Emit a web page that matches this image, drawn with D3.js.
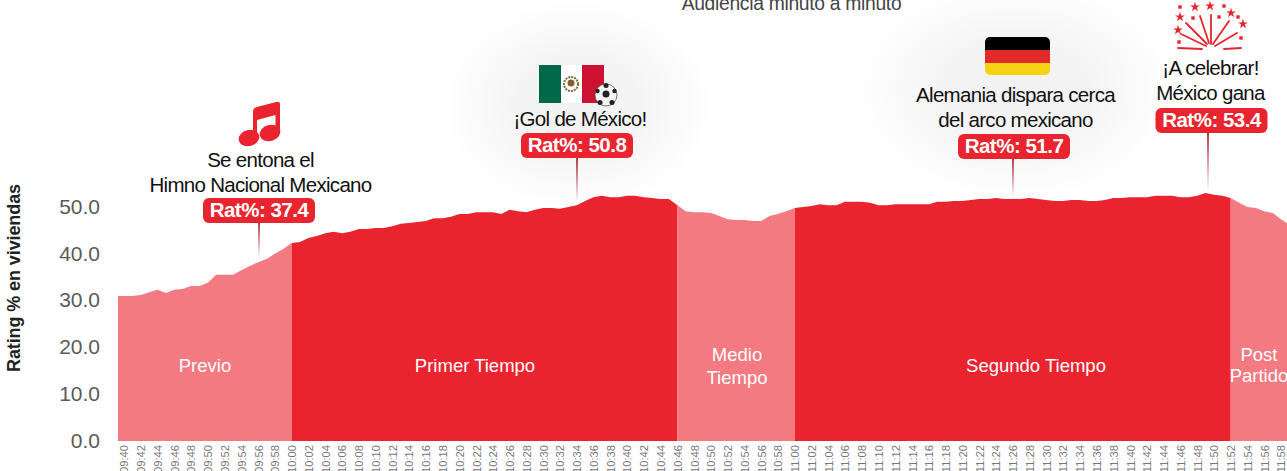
<!DOCTYPE html>
<meta charset="utf-8">
<script src="https://d3js.org/d3.v7.min.js"></script>
<style>
  html, body { margin: 0; padding: 0; background: #fff; overflow: hidden; }
  svg { display: block; font-family: "Liberation Sans", Arial, sans-serif; }
</style>
<div id="my_dataviz"></div>
<script>

// rating per minute, first value is 09:39
var firstMinute = 579;
var rating = [
  31.0, 31.0, 31.0, 31.2, 31.8, 32.3, 31.6, 32.3, 32.5, 33.1, 33.1, 33.8, 35.5, 35.5, 35.5, 36.5, 37.4, 38.2, 38.9, 40.0, 41.0,
  42.3, 42.5, 43.4, 43.8, 44.4, 44.7, 44.4, 44.7, 45.3, 45.3, 45.5, 45.5, 45.9, 46.4, 46.6, 46.8, 47.0, 47.6, 47.6, 47.9,
  48.5, 48.5, 48.9, 48.9, 48.9, 48.5, 49.4, 49.1, 48.9, 49.4, 49.8, 49.8, 49.6, 50.0, 50.4, 51.3, 52.1, 52.4, 52.1, 52.1,
  52.4, 52.4, 52.1, 51.9, 51.7, 51.7, 50.4, 49.1, 48.9, 48.9, 48.7, 48.1, 47.4, 47.2, 47.2, 47.0, 47.0, 48.1, 48.5, 49.1,
  49.8, 50.0, 50.2, 50.6, 50.4, 50.4, 51.1, 51.1, 51.1, 50.9, 50.4, 50.4, 50.6, 50.6, 50.6, 50.6, 50.6, 51.1, 51.1, 51.3,
  51.3, 51.5, 51.7, 51.7, 51.9, 51.7, 51.7, 51.7, 51.9, 51.7, 51.5, 51.3, 51.3, 51.5, 51.5, 51.3, 51.3, 51.5, 51.9, 51.9,
  52.1, 52.1, 52.1, 52.4, 52.4, 52.4, 52.1, 52.1, 52.4, 53.0, 52.6, 52.4, 51.9, 50.9, 50.0, 49.8, 49.1, 48.7, 47.4, 46.2
];

// match phases: name lines, first and last minute, colour
var phaseNames = [["Previo"], ["Primer Tiempo"], ["Medio", "Tiempo"], ["Segundo Tiempo"], ["Post", "Partido"]];
var phaseStart = [579, 600, 646, 660, 712];
var phaseEnd = [600, 646, 660, 712, 719];
var phaseColor = ["#f37a80", "#e9242e", "#f37a80", "#e9242e", "#f37a80"];
// the labels are not centred in their phase
var phaseLabelX = [205, 475, 737, 1036, 1259];
var phaseLineGap = [0, 0, 23, 0, 21];

var yTicks = [0, 10, 20, 30, 40, 50];

// annotations
var noteLines = [["Se entona el", "Himno Nacional Mexicano"], ["¡Gol de México!"], ["Alemania dispara cerca", "del arco mexicano"], ["¡A celebrar!", "México gana"]];
var noteRating = [37.4, 50.8, 51.7, 53.4];
var noteX = [260.5, 580, 1015.5, 1210.5];
var noteTextY = [192, 126, 127, 100];
var noteBadgeX = [259, 577, 1014, 1211.5];
var noteBadgeY = [198, 133, 134, 108];
var noteStemX = [259, 577, 1013, 1208];
var noteStemEnd = [256, 200, 195, 188];

var width = 1287, height = 471;

var svg = d3.select("#my_dataviz")
  .append("svg")
    .attr("width", width)
    .attr("height", height);

var x = d3.scaleLinear()
  .domain([580, 718])
  .range([124, 1281]);

var y = d3.scaleLinear()
  .domain([0, 50])
  .range([441, 207]);

var defs = svg.append("defs");

defs.append("clipPath").attr("id", "plot")
  .append("rect")
    .attr("x", 118).attr("y", 0)
    .attr("width", width - 118).attr("height", height);

var glow = defs.append("radialGradient").attr("id", "glow");
glow.append("stop").attr("offset", "0%").attr("stop-color", "#f2f1f1");
glow.append("stop").attr("offset", "45%").attr("stop-color", "#f5f4f4");
glow.append("stop").attr("offset", "75%").attr("stop-color", "#fbfafa");
glow.append("stop").attr("offset", "100%").attr("stop-color", "#fff");

var stem = defs.append("linearGradient").attr("id", "stem")
  .attr("x1", 0).attr("x2", 0).attr("y1", 0).attr("y2", 1);
stem.append("stop").attr("offset", "0%").attr("stop-color", "#b03a48");
stem.append("stop").attr("offset", "100%").attr("stop-color", "#b03a48").attr("stop-opacity", 0.05);

// soft glow behind the big moments
svg.append("ellipse").attr("cx", 578).attr("cy", 105).attr("rx", 135).attr("ry", 105).attr("fill", "url(#glow)");
svg.append("ellipse").attr("cx", 1015).attr("cy", 90).attr("rx", 160).attr("ry", 110).attr("fill", "url(#glow)");

svg.append("text")
  .attr("x", 791.5).attr("y", 10)
  .attr("text-anchor", "middle")
  .attr("font-size", 19.3)
  .attr("letter-spacing", -0.3)
  .attr("fill", "#444")
  .text("Audiencia minuto a minuto");

// areas
var minutes = rating.map(function(d, i) { return {m: firstMinute + i, v: d}; });

var area = d3.area()
  .x(function(d) { return x(d.m); })
  .y0(y(0))
  .y1(function(d) { return y(d.v); });

svg.append("g")
  .attr("clip-path", "url(#plot)")
  .selectAll("path")
  .data(phaseNames)
  .enter()
  .append("path")
    .attr("fill", function(d, i) { return phaseColor[i]; })
    .attr("d", function(d, i) {
      return area(minutes.filter(function(p) { return p.m >= phaseStart[i] && p.m <= phaseEnd[i]; }));
    });

// phase names
phaseNames.forEach(function(lines, i) {
  var t = svg.append("text")
    .attr("text-anchor", "middle")
    .attr("fill", "#fff")
    .attr("font-size", 18.5);
  lines.forEach(function(line, j) {
    t.append("tspan")
      .attr("x", phaseLabelX[i])
      .attr("y", (lines.length == 1 ? 372 : 361) + j * phaseLineGap[i])
      .text(line);
  });
});

// axes
var yAxis = svg.append("g")
  .attr("transform", "translate(100,0)")
  .call(d3.axisLeft(y).tickValues(yTicks).tickSize(0).tickPadding(0).tickFormat(d3.format(".1f")));
yAxis.select(".domain").remove();
yAxis.selectAll("text")
  .attr("font-family", "'Liberation Sans', Arial, sans-serif")
  .attr("font-size", 21)
  .attr("dy", "0.3em")
  .attr("fill", "#5a5a5a");

var xAxis = svg.append("g")
  .attr("transform", "translate(0,441)")
  .call(d3.axisBottom(x)
    .tickValues(d3.range(580, 720, 2))
    .tickSize(0)
    .tickFormat(function(d) { return d3.format("02")(Math.floor(d / 60)) + ":" + d3.format("02")(d % 60); }));
xAxis.select(".domain").remove();
xAxis.selectAll("text")
  .attr("font-family", "'Liberation Sans', Arial, sans-serif")
  .attr("font-size", 11.2)
  .attr("fill", "#777")
  .attr("transform", "rotate(-90)")
  .attr("text-anchor", "end")
  .attr("x", -4)
  .attr("y", 0)
  .attr("dy", "0.35em");

svg.append("text")
  .attr("transform", "translate(20,278) rotate(-90)")
  .attr("text-anchor", "middle")
  .attr("font-size", 18)
  .attr("font-weight", "bold")
  .attr("letter-spacing", -0.1)
  .attr("fill", "#222")
  .text("Rating % en viviendas");

// annotations
noteRating.forEach(function(r, i) {
  var badgeY = noteBadgeY[i];
  svg.append("rect")
    .attr("x", noteStemX[i] - 1).attr("y", badgeY + 24)
    .attr("width", 2).attr("height", noteStemEnd[i] - badgeY - 24)
    .attr("fill", "url(#stem)");

  svg.append("rect")
    .attr("x", noteBadgeX[i] - 56).attr("y", badgeY)
    .attr("width", 112).attr("height", 25)
    .attr("rx", 6)
    .attr("fill", "#e9242e");

  svg.append("text")
    .attr("x", noteBadgeX[i]).attr("y", badgeY + 19)
    .attr("text-anchor", "middle")
    .attr("font-size", 20.5)
    .attr("font-weight", "bold")
    .attr("letter-spacing", -0.5)
    .attr("fill", "#fff")
    .text("Rat%: " + r.toFixed(1));

  var lines = noteLines[i];
  lines.forEach(function(line, j) {
    svg.append("text")
      .attr("x", noteX[i])
      .attr("y", noteTextY[i] - (lines.length - 1 - j) * 25)
      .attr("text-anchor", "middle")
      .attr("font-size", 20.5)
      .attr("letter-spacing", -0.7)
      .attr("fill", "#111")
      .text(line);
  });
});

// music note
var note = svg.append("g").attr("fill", "#e9242e");
note.append("path").attr("d", "M253 136V112Q253 108 257 107L276 102Q280 101 280 104V134H275.500V115L257 120V136Z");
note.append("ellipse").attr("cx", 249).attr("cy", 138).attr("rx", 10.5).attr("ry", 8).attr("transform", "rotate(-15 249 138)");
note.append("ellipse").attr("cx", 270).attr("cy", 133).attr("rx", 10.5).attr("ry", 8).attr("transform", "rotate(-15 270 133)");

// mexican flag and ball
var mx = svg.append("g");
mx.append("rect").attr("x", 539).attr("y", 65).attr("width", 65).attr("height", 38).attr("rx", 1).attr("fill", "#fff");
mx.append("rect").attr("x", 539).attr("y", 65).attr("width", 22).attr("height", 38).attr("fill", "#006847");
mx.append("rect").attr("x", 582).attr("y", 65).attr("width", 22).attr("height", 38).attr("fill", "#ce1130");
mx.append("circle").attr("cx", 571).attr("cy", 84).attr("r", 7).attr("fill", "none").attr("stroke", "#7a6a3c").attr("stroke-width", 2).attr("stroke-dasharray", "2 1");
mx.append("circle").attr("cx", 571).attr("cy", 83).attr("r", 3.5).attr("fill", "#8a5a30");
mx.append("circle").attr("cx", 606).attr("cy", 95).attr("r", 11).attr("fill", "#f4f4f4").attr("stroke", "#555").attr("stroke-width", 0.8);
mx.append("circle").attr("cx", 606).attr("cy", 94).attr("r", 3.5).attr("fill", "#222");
[[606, 85.5, 2.5], [597.5, 91, 2.2], [614.5, 91, 2.2], [600, 102.5, 2.5], [612, 102.5, 2.5]].forEach(function(p) {
  mx.append("circle").attr("cx", p[0]).attr("cy", p[1]).attr("r", p[2]).attr("fill", "#222");
});

// german flag
defs.append("clipPath").attr("id", "deflag")
  .append("rect").attr("x", 985).attr("y", 37).attr("width", 65).attr("height", 38).attr("rx", 5);
var de = svg.append("g").attr("clip-path", "url(#deflag)");
de.append("rect").attr("x", 985).attr("y", 37).attr("width", 65).attr("height", 13).attr("fill", "#000");
de.append("rect").attr("x", 985).attr("y", 50).attr("width", 65).attr("height", 13).attr("fill", "#e12a2c");
de.append("rect").attr("x", 985).attr("y", 63).attr("width", 65).attr("height", 12).attr("fill", "#f6d312");

// fireworks
var fw = svg.append("g");
[[1178, 48, 1202, 49], [1181, 34, 1206, 46], [1186, 23, 1207, 44], [1200, 16, 1209, 43], [1211, 15, 1211, 44], [1229, 21, 1213, 44], [1237, 33, 1215, 46], [1241, 48, 1224, 49]].forEach(function(l) {
  fw.append("line")
    .attr("x1", l[0]).attr("y1", l[1]).attr("x2", l[2]).attr("y2", l[3])
    .attr("stroke", "#e9242e").attr("stroke-width", 1.8).attr("stroke-linecap", "round");
});
[[1195, 7], [1210, 6], [1231, 13], [1243, 24], [1180, 17], [1178, 30]].forEach(function(p) {
  fw.append("path")
    .attr("d", d3.symbol().type(d3.symbolStar).size(30))
    .attr("transform", "translate(" + p[0] + "," + p[1] + ")")
    .attr("fill", "#e9242e");
});
[[1180, 7], [1224, 6], [1193, 18], [1219, 17], [1238, 17], [1241, 38], [1179, 42]].forEach(function(p) {
  fw.append("rect")
    .attr("x", p[0] - 1.7).attr("y", p[1] - 1.7)
    .attr("width", 3.4).attr("height", 3.4)
    .attr("fill", "#e9242e");
});

</script>
